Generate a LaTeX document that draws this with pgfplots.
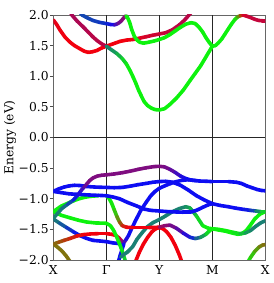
\documentclass[border=0pt]{standalone}
\usepackage{fontspec}
\setmainfont{DejaVu Serif}
\usepackage{pgfplots}
\pgfplotsset{compat=1.18}
\pgfplotsset{band/.style={mesh, point meta=explicit, no marks, line width=3.6pt, line cap=round, line join=round}}
\begin{document}
\begin{tikzpicture}
\path (-53.3pt,-23pt) rectangle (219.7pt,260pt);
\begin{axis}[
  at={(0,0)}, anchor=south west,
  scale only axis, width=212pt, height=245pt,
  xmin=0, xmax=4, ymin=-2, ymax=2,
  xtick={0,1,2,3,4}, xticklabels={X,Γ,Y,M,X},
  ytick={-2,-1.5,-1,-0.5,0,0.5,1,1.5,2},
  yticklabels={−2.0,−1.5,−1.0,−0.5,0.0,0.5,1.0,1.5,2.0},
  ytick pos=left, tick align=outside, major tick length=3.5pt,
  ytick style={black!70, line width=0.8pt},
  xtick style={draw=none},
  axis line style={black!60, line width=0.8pt},
  tick label style={font=\fontsize{12.3}{14}\selectfont},
  yticklabel style={anchor=east, inner sep=0pt, xshift=-1pt},
  xticklabel style={anchor=north, inner sep=0pt, yshift=-2pt},
  ylabel={Energy (eV)},
  ylabel style={font=\fontsize{12.3}{14}\selectfont, at={(axis description cs:-0.204,0.5)}, anchor=center},
  colormap={bands}{rgb=(0.95,0,0.05) rgb=(0.5,0.45,0.05) rgb=(0.05,0.95,0.05) rgb=(0.1,0.5,0.45) rgb=(0.05,0.05,0.95) rgb=(0.5,0.05,0.5) rgb=(0.95,0,0.05)},
  point meta min=0, point meta max=6,
  clip=true,
]
\draw[black!85, line width=0.8pt] (axis cs:1,-2) -- (axis cs:1,2);
\draw[black!85, line width=0.8pt] (axis cs:2,-2) -- (axis cs:2,2);
\draw[black!85, line width=0.8pt] (axis cs:3,-2) -- (axis cs:3,2);
\draw[black!85, line width=0.8pt] (axis cs:0,0) -- (axis cs:4,0);
% ---------- conduction bands ----------
\addplot[band] table[meta=c] {
x y c
0.00 1.92 5.85
0.06 1.85 5.9
0.13 1.75 5.95
0.22 1.64 6
0.31 1.56 6
0.40 1.50 6
0.50 1.45 6
0.58 1.41 6
0.66 1.39 6
0.74 1.40 6
0.82 1.42 6
0.91 1.46 6
1.00 1.49 6
1.13 1.53 6
1.26 1.57 6
1.38 1.59 6
1.50 1.60 5.95
1.62 1.62 5.85
1.75 1.645 5.75
1.88 1.67 5.7
2.00 1.69 5.65
2.12 1.71 5.6
2.25 1.76 5.55
2.38 1.84 5.5
2.48 1.92 5.5
2.56 2.00 5.5
2.62 2.06 5.5
};
\addplot[band] table[meta=c] {
x y c
0.30 2.08 5.35
0.35 2.00 5.35
0.45 1.90 5.4
0.57 1.80 5.4
0.66 1.72 5.45
0.75 1.64 5.5
0.83 1.58 5.5
0.91 1.53 5.5
1.00 1.49 5.5
};
\addplot[band] table[meta=c] {
x y c
1.00 1.49 3.0
1.10 1.43 2.9
1.20 1.37 2.7
1.30 1.29 2.4
1.38 1.20 2.1
1.45 1.09 2.0
1.51 0.98 2.0
1.56 0.88 2
1.61 0.77 2
1.66 0.68 2
1.71 0.59 2
1.78 0.52 2
1.85 0.48 2
1.92 0.455 2
2.00 0.45 2
2.10 0.47 2
2.20 0.54 2
2.32 0.64 2
2.45 0.77 2
2.58 0.93 2
2.68 1.05 2
2.78 1.17 2
2.89 1.33 2
3.00 1.49 2
};
\addplot[band] table[meta=c] {
x y c
0.50 2.05 3.5
0.54 2.00 3.5
0.65 1.95 3.5
0.75 1.91 3.55
0.87 1.88 3.6
1.00 1.86 3.7
1.08 1.845 3.9
1.16 1.84 4.3
1.22 1.86 4.7
1.28 1.90 5.0
1.33 1.955 5.1
1.37 1.985 5.1
};
\addplot[band] table[meta=c] {
x y c
1.37 1.985 2
1.40 1.96 2
1.44 1.88 2
1.48 1.76 2
1.53 1.65 2
1.58 1.59 2
1.63 1.555 2
1.70 1.54 2
1.80 1.555 2
1.90 1.575 2
2.00 1.60 2
2.10 1.63 2
2.20 1.68 2
2.30 1.74 2
2.40 1.80 2
2.50 1.85 2
2.60 1.875 2
2.68 1.86 2
2.75 1.80 2
2.82 1.72 2
2.88 1.63 2
2.94 1.555 2
3.00 1.49 2
3.06 1.50 2
3.12 1.55 2
3.18 1.61 2
3.24 1.69 2
3.30 1.77 2
3.36 1.85 2
3.43 1.93 2
3.48 1.97 1.6
3.53 1.99 0.8
3.58 2.00 0.2
};
\addplot[band] table[meta=c] {
x y c
3.58 2.00 5.8
3.65 1.98 5.7
3.72 1.96 5.6
3.80 1.93 5.6
3.88 1.91 5.6
3.95 1.905 5.6
4.00 1.905 5.6
};
% ---------- valence bands ----------
\addplot[band] table[meta=c] {
x y c
0.00 -1.33 3
0.12 -1.40 3.2
0.25 -1.47 3.5
0.38 -1.54 3.8
0.50 -1.60 4
0.62 -1.645 4
0.75 -1.68 4
0.88 -1.69 4
1.00 -1.70 4
1.12 -1.72 4
1.22 -1.73 4
1.32 -1.74 4
};
\addplot[band] table[meta=c] {
x y c
0.00 -1.74 1
0.08 -1.79 1
0.16 -1.85 1
0.24 -1.93 1
0.32 -2.03 1
};
\addplot[band] table[meta=c] {
x y c
3.66 -2.05 2
3.72 -1.96 1.8
3.80 -1.86 1.5
3.88 -1.79 1.2
3.95 -1.755 1
4.00 -1.75 1
};
\addplot[band] table[meta=c] {
x y c
0.00 -1.74 1
0.10 -1.71 0.8
0.20 -1.68 0.6
0.31 -1.65 0.4
0.44 -1.61 0.2
0.57 -1.585 0
0.70 -1.575 0
0.85 -1.57 0
1.00 -1.57 0
1.10 -1.58 0
1.18 -1.60 0
};
\addplot[band] table[meta=c] {
x y c
1.18 -1.60 6
1.24 -1.64 5.8
1.29 -1.69 5.3
1.33 -1.72 4.8
1.37 -1.67 4.3
1.42 -1.60 4
1.46 -1.52 4
1.55 -1.36 4
1.65 -1.19 4
1.75 -1.06 4
1.84 -0.95 4
1.92 -0.88 4
2.00 -0.83 4
2.10 -0.79 4
2.20 -0.755 4
2.30 -0.725 4
2.42 -0.70 4
2.55 -0.69 4
2.70 -0.705 4
};
\addplot[band] table[meta=c] {
x y c
1.22 -2.05 4
1.26 -1.93 4
1.30 -1.82 4
1.33 -1.74 4
};
\addplot[band] table[meta=c] {
x y c
0.00 -1.21 2
0.15 -1.27 2
0.31 -1.31 2
0.47 -1.35 2
0.63 -1.38 2
0.80 -1.395 2
1.00 -1.40 2
1.08 -1.44 2
1.14 -1.52 2
1.20 -1.63 2
1.26 -1.76 2
1.31 -1.88 2.2
1.36 -2.02 2.4
};
\addplot[band] table[meta=c] {
x y c
1.27 -1.95 3
1.33 -1.91 3
1.40 -1.87 3
1.50 -1.78 3
1.58 -1.66 3
1.68 -1.55 3
1.77 -1.46 3
1.88 -1.39 3
2.00 -1.34 3
2.12 -1.28 3
2.25 -1.21 3
2.38 -1.16 3
2.50 -1.13 2.9
2.58 -1.15 2.7
2.70 -1.28 2.4
2.82 -1.44 2.1
2.92 -1.48 2
3.00 -1.49 2
3.12 -1.51 2
3.25 -1.53 2
3.38 -1.56 2
3.48 -1.58 2
3.56 -1.57 2
3.64 -1.52 2
3.72 -1.43 2
3.80 -1.33 2
3.90 -1.25 2
4.00 -1.21 2
};
\addplot[band] table[meta=c] {
x y c
1.54 -2.05 0
1.62 -1.88 0
1.70 -1.74 0
1.78 -1.63 0
1.86 -1.54 0
1.93 -1.49 0
2.00 -1.47 0
2.07 -1.49 0
2.14 -1.54 0
2.22 -1.63 0
2.30 -1.76 0
2.38 -1.92 0
2.42 -2.02 0
};
\addplot[band] table[meta=c] {
x y c
0.00 -1.21 2
0.15 -1.12 2
0.31 -1.06 2
0.45 -1.01 2
0.57 -0.98 2
0.70 -0.96 2
0.85 -0.95 2
1.00 -0.95 2
1.05 -0.99 2
1.10 -1.07 2
1.15 -1.18 1.8
1.20 -1.29 1.5
1.25 -1.38 1.0
1.30 -1.44 0.5
1.38 -1.465 0.1
1.50 -1.47 0
1.65 -1.47 0
1.80 -1.47 0
2.00 -1.465 0
};
\addplot[band] table[meta=c] {
x y c
2.00 -1.465 5.3
2.10 -1.44 5.2
2.20 -1.43 5
2.32 -1.48 4.8
2.45 -1.56 4.5
2.58 -1.63 4.0
2.68 -1.65 3.5
2.78 -1.63 3
2.88 -1.58 2.5
2.95 -1.52 2
3.00 -1.49 2
3.12 -1.50 2
3.25 -1.52 2
3.40 -1.55 2
3.52 -1.57 2.3
3.62 -1.56 2.6
3.72 -1.52 2.9
3.82 -1.45 3
3.92 -1.39 3
4.00 -1.36 3
};
\addplot[band] table[meta=c] {
x y c
0.00 -0.88 4
0.15 -0.90 4
0.30 -0.92 4
0.50 -0.93 4
0.70 -0.94 4
0.85 -0.945 4
1.00 -0.95 4
1.12 -0.97 4
1.25 -1.00 4
1.40 -1.06 4
1.58 -1.12 4
1.72 -1.17 4
1.84 -1.19 4
2.00 -1.20 4
2.15 -1.21 4
2.30 -1.215 4
2.45 -1.22 4
2.58 -1.22 4
2.70 -1.19 4
2.82 -1.14 4
2.92 -1.10 4
3.00 -1.08 4
};
\addplot[band] table[meta=c] {
x y c
0.00 -0.88 4
0.10 -0.84 4
0.20 -0.81 4
0.30 -0.79 4
0.40 -0.78 4
0.52 -0.785 4
0.63 -0.80 4
0.80 -0.81 4
1.00 -0.815 4
1.15 -0.82 4
1.30 -0.815 4
1.45 -0.795 4
1.60 -0.77 4
1.75 -0.75 4
1.88 -0.73 4
2.00 -0.72 4
2.12 -0.715 4
2.25 -0.73 4
2.40 -0.78 4
2.55 -0.86 4
2.70 -0.95 4
2.85 -1.02 4
3.00 -1.08 4
3.15 -1.11 4
3.30 -1.13 4
3.45 -1.155 4
3.60 -1.175 4
3.72 -1.19 3.8
3.82 -1.20 3.3
3.92 -1.21 2.6
4.00 -1.21 2
};
\addplot[band] table[meta=c] {
x y c
0.00 -1.32 3.0
0.08 -1.24 3.0
0.16 -1.16 3.0
0.27 -1.09 3.3
0.38 -1.02 3.7
0.46 -0.94 4.0
0.53 -0.86 4.3
0.58 -0.81 4.6
0.63 -0.76 4.9
0.69 -0.70 5.0
0.75 -0.66 5
0.83 -0.63 5
0.92 -0.615 5
1.00 -0.61 5
1.15 -0.595 5
1.30 -0.575 5
1.45 -0.55 5
1.60 -0.52 5
1.75 -0.495 5
1.90 -0.475 5
2.00 -0.47 5
2.10 -0.48 5
2.20 -0.52 4.8
2.30 -0.57 4.6
2.40 -0.63 4.3
2.50 -0.67 4.0
2.60 -0.695 4
2.75 -0.71 4
2.90 -0.715 4
3.00 -0.72 4
3.15 -0.72 4
3.30 -0.72 4
3.45 -0.73 4
3.55 -0.75 4
3.65 -0.79 4
3.75 -0.82 4
3.85 -0.85 4
3.93 -0.865 4
4.00 -0.87 4
};
\end{axis}
\end{tikzpicture}
\end{document}
